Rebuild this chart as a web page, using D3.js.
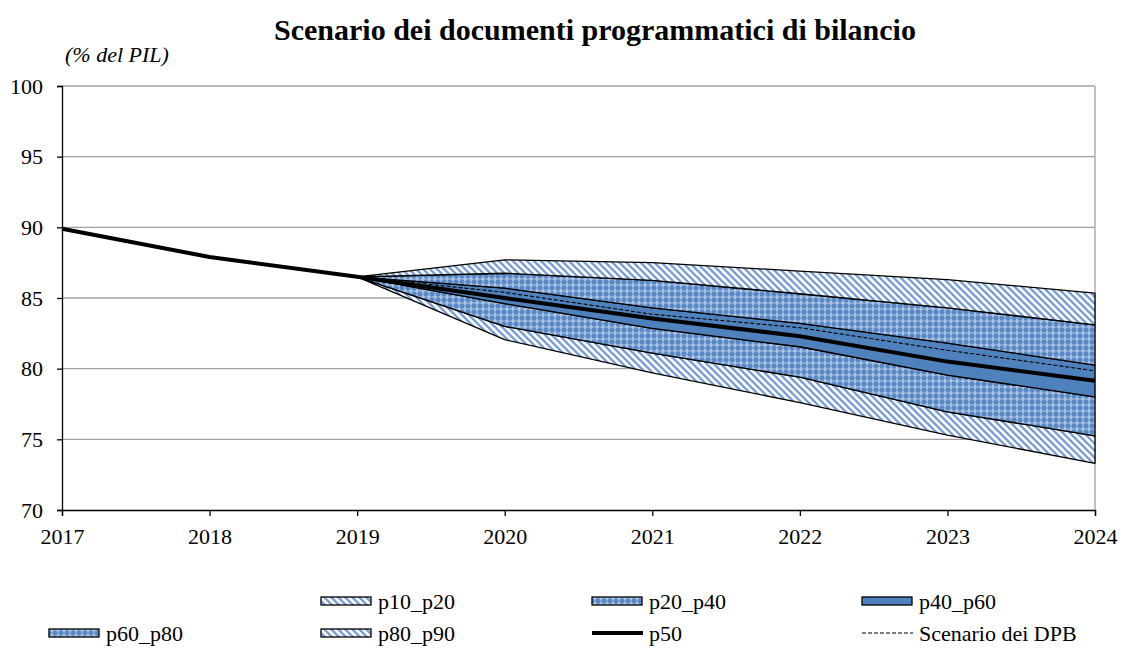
<!DOCTYPE html>
<html>
<head>
<meta charset="UTF-8">
<title>Scenario dei documenti programmatici di bilancio</title>
<script src="https://cdn.jsdelivr.net/npm/d3@7"></script>
<style>
  body { margin: 0; background: white; }
  svg { display: block; font-family: "Liberation Serif", "Times New Roman", serif; }
</style>
</head>
<body>
<svg id="chart" width="1121" height="651"></svg>
<script>
// years and fan chart percentiles (% del PIL)
var years = [2017, 2018, 2019, 2020, 2021, 2022, 2023, 2024];
var fanYears = [2019, 2020, 2021, 2022, 2023, 2024];
var p50 = [89.9, 87.9, 86.5, 85.0, 83.55, 82.3, 80.5, 79.15];
var p10 = [86.5, 82.05, 79.7, 77.6, 75.3, 73.3];
var p20 = [86.5, 83.0, 81.1, 79.4, 76.95, 75.25];
var p40 = [86.5, 84.6, 82.85, 81.55, 79.55, 78.0];
var p60 = [86.5, 85.7, 84.3, 83.2, 81.8, 80.25];
var p80 = [86.5, 86.75, 86.25, 85.3, 84.3, 83.1];
var p90 = [86.5, 87.7, 87.5, 86.9, 86.3, 85.35];
var dpb = [86.5, 85.4, 83.85, 82.9, 81.3, 79.85];
var yTicks = [70, 75, 80, 85, 90, 95, 100];

var svg = d3.select("#chart");
var mLeft = 62, mRight = 1095, mTop = 86, mBottom = 510;

var x = d3.scaleLinear().domain([2017, 2024]).range([mLeft, mRight]);
var y = d3.scaleLinear().domain([70, 100]).range([mBottom, mTop]);

// patterns
var defs = svg.append("defs");
var stripe = defs.append("pattern").attr("id", "stripe")
  .attr("patternUnits", "userSpaceOnUse").attr("width", 7).attr("height", 7);
stripe.append("rect").attr("width", 7).attr("height", 7).attr("fill", "white");
stripe.append("path")
  .attr("d", "M0,0L7,7M-2,5L2,9M5,-2L9,2")
  .attr("stroke", "#7A9FD2").attr("stroke-width", 2.3);

var cross = defs.append("pattern").attr("id", "cross")
  .attr("patternUnits", "userSpaceOnUse").attr("width", 6).attr("height", 6);
cross.append("rect").attr("width", 6).attr("height", 6).attr("fill", "#5A89C5");
cross.append("path")
  .attr("d", "M0.5,3h5M3,0.5v5")
  .attr("stroke", "#D6E2F3").attr("stroke-width", 1.2);
cross.append("rect").attr("x", 2.4).attr("y", 2.4).attr("width", 1.2).attr("height", 1.2).attr("fill", "#8FB0DC");

// gridlines
svg.append("g").selectAll("line").data(yTicks.filter(function(d) { return d > 70; }))
  .enter().append("line")
  .attr("x1", mLeft).attr("x2", mRight)
  .attr("y1", function(d) { return y(d); }).attr("y2", function(d) { return y(d); })
  .attr("stroke", "#A0A0A0").attr("stroke-width", 1.3);
svg.append("line").attr("x1", mRight).attr("x2", mRight).attr("y1", mTop).attr("y2", mBottom)
  .attr("stroke", "#A0A0A0").attr("stroke-width", 1.3);

// bands
var bands = [
  { lo: p10, hi: p20, fill: "url(#stripe)" },
  { lo: p20, hi: p40, fill: "url(#cross)" },
  { lo: p40, hi: p60, fill: "#4F81BD" },
  { lo: p60, hi: p80, fill: "url(#cross)" },
  { lo: p80, hi: p90, fill: "url(#stripe)" }
];
var area = d3.area()
  .x(function(d) { return x(d.yr); })
  .y0(function(d) { return y(d.lo); })
  .y1(function(d) { return y(d.hi); });
svg.append("g").selectAll("path").data(bands).enter().append("path")
  .attr("d", function(b) {
    return area(fanYears.map(function(yr, i) { return { yr: yr, lo: b.lo[i], hi: b.hi[i] }; }));
  })
  .attr("fill", function(b) { return b.fill; })
  .attr("stroke", "black").attr("stroke-width", 1.3).attr("stroke-linejoin", "round");

var line = d3.line().x(function(d) { return x(d[0]); }).y(function(d) { return y(d[1]); });
svg.append("path").attr("d", line(fanYears.map(function(yr, i) { return [yr, dpb[i]]; })))
  .attr("fill", "none").attr("stroke", "black").attr("stroke-width", 1.1).attr("stroke-dasharray", "4,2");
svg.append("path").attr("d", line(years.map(function(yr, i) { return [yr, p50[i]]; })))
  .attr("fill", "none").attr("stroke", "black").attr("stroke-width", 4).attr("stroke-linejoin", "round");

// axes
var yAxis = svg.append("g").attr("transform", "translate(" + mLeft + ",0)")
  .call(d3.axisLeft(y).tickValues(yTicks).tickSize(5).tickPadding(14).tickFormat(d3.format("d")));
var xAxis = svg.append("g").attr("transform", "translate(0," + mBottom + ")")
  .call(d3.axisBottom(x).tickValues(years).tickSize(6).tickPadding(12).tickFormat(d3.format("d")));
[yAxis, xAxis].forEach(function(a) {
  a.select(".domain").attr("stroke", "black").attr("stroke-width", 1.3);
  a.selectAll(".tick line").attr("stroke", "black").attr("stroke-width", 1.3);
  a.selectAll(".tick text").attr("fill", "black")
    .style("font-family", "Liberation Serif, serif").style("font-size", "22px");
});
yAxis.selectAll(".tick text").attr("x", -19);

// titles
svg.append("text").attr("x", 595).attr("y", 40).attr("text-anchor", "middle")
  .style("font-size", "30px").style("font-weight", "bold")
  .text("Scenario dei documenti programmatici di bilancio");
svg.append("text").attr("x", 65).attr("y", 62)
  .style("font-size", "22px").style("font-style", "italic")
  .text("(% del PIL)");

// legend
var legend = [
  { name: "p10_p20", kind: "rect", fill: "url(#stripe)", x: 321, y: 601 },
  { name: "p20_p40", kind: "rect", fill: "url(#cross)", x: 592, y: 601 },
  { name: "p40_p60", kind: "rect", fill: "#4F81BD", x: 862, y: 601 },
  { name: "p60_p80", kind: "rect", fill: "url(#cross)", x: 49, y: 633 },
  { name: "p80_p90", kind: "rect", fill: "url(#stripe)", x: 321, y: 633 },
  { name: "p50", kind: "thick", x: 592, y: 633 },
  { name: "Scenario dei DPB", kind: "dash", x: 862, y: 633 }
];
var lg = svg.append("g").selectAll("g").data(legend).enter().append("g")
  .attr("transform", function(d) { return "translate(" + d.x + "," + d.y + ")"; });
lg.filter(function(d) { return d.kind === "rect"; }).append("rect")
  .attr("x", 0).attr("y", -4).attr("width", 50).attr("height", 8)
  .attr("fill", function(d) { return d.fill; }).attr("stroke", "black").attr("stroke-width", 1.3);
lg.filter(function(d) { return d.kind === "thick"; }).append("line")
  .attr("x1", 0).attr("x2", 51).attr("stroke", "black").attr("stroke-width", 4);
lg.filter(function(d) { return d.kind === "dash"; }).append("line")
  .attr("x1", 0).attr("x2", 51).attr("stroke", "black").attr("stroke-width", 1.1).attr("stroke-dasharray", "4,2");
lg.append("text").attr("x", 57).attr("y", 0).attr("dy", "0.35em")
  .style("font-size", "22px").text(function(d) { return d.name; });
</script>
</body>
</html>
